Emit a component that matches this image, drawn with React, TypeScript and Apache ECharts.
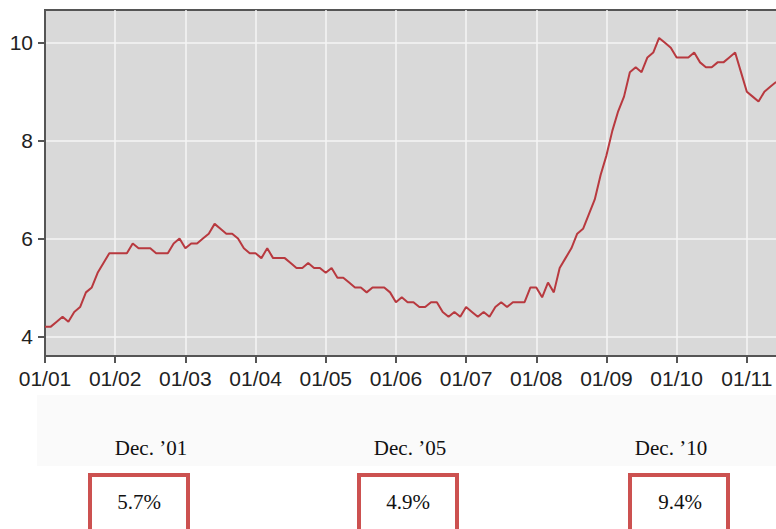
import React, { useEffect, useRef } from "react";
import * as echarts from "echarts";

// Monthly unemployment rate (%), Jan 2001 .. Jun 2011
const y2001 = [4.2, 4.2, 4.3, 4.4, 4.3, 4.5, 4.6, 4.9, 5.0, 5.3, 5.5, 5.7];
const y2002 = [5.7, 5.7, 5.7, 5.9, 5.8, 5.8, 5.8, 5.7, 5.7, 5.7, 5.9, 6.0];
const y2003 = [5.8, 5.9, 5.9, 6.0, 6.1, 6.3, 6.2, 6.1, 6.1, 6.0, 5.8, 5.7];
const y2004 = [5.7, 5.6, 5.8, 5.6, 5.6, 5.6, 5.5, 5.4, 5.4, 5.5, 5.4, 5.4];
const y2005 = [5.3, 5.4, 5.2, 5.2, 5.1, 5.0, 5.0, 4.9, 5.0, 5.0, 5.0, 4.9];
const y2006 = [4.7, 4.8, 4.7, 4.7, 4.6, 4.6, 4.7, 4.7, 4.5, 4.4, 4.5, 4.4];
const y2007 = [4.6, 4.5, 4.4, 4.5, 4.4, 4.6, 4.7, 4.6, 4.7, 4.7, 4.7, 5.0];
const y2008 = [5.0, 4.8, 5.1, 4.9, 5.4, 5.6, 5.8, 6.1, 6.2, 6.5, 6.8, 7.3];
const y2009 = [7.7, 8.2, 8.6, 8.9, 9.4, 9.5, 9.4, 9.7, 9.8, 10.1, 10.0, 9.9];
const y2010 = [9.7, 9.7, 9.7, 9.8, 9.6, 9.5, 9.5, 9.6, 9.6, 9.7, 9.8, 9.4];
const y2011 = [9.0, 8.9, 8.8, 9.0, 9.1, 9.2];

const xTickLabels = ["01/01", "01/02", "01/03", "01/04", "01/05", "01/06", "01/07", "01/08", "01/09", "01/10", "01/11"];
const yTickValues = [4, 6, 8, 10];

const calloutLabels = ["Dec. \u201901", "Dec. \u201905", "Dec. \u201910"];
const calloutValues = ["5.7%", "4.9%", "9.4%"];

export default function App() {
  const ref = useRef<HTMLDivElement>(null);

  useEffect(() => {
    if (!ref.current) return;
    const chart = echarts.init(ref.current, undefined, { renderer: "svg" });
    const rates = [
      ...y2001, ...y2002, ...y2003, ...y2004, ...y2005, ...y2006,
      ...y2007, ...y2008, ...y2009, ...y2010, ...y2011,
    ];
    const seriesData = rates.map((v, i) => [i, v]);

    const labelX = [151, 410, 671];
    const boxX = [90, 359, 630];
    const valueX = [139, 408, 680];

    const graphics: any[] = [
      {
        type: "rect",
        z: -1,
        shape: { x: 37, y: 395, width: 739, height: 71 },
        style: { fill: "#fafafa" },
      },
    ];
    calloutLabels.forEach((t, i) => {
      graphics.push({
        type: "text",
        x: labelX[i],
        y: 448,
        style: {
          text: t,
          fontFamily: "Liberation Serif",
          fontSize: 21,
          fill: "#111",
          align: "center",
          verticalAlign: "middle",
        },
      });
      graphics.push({
        type: "rect",
        shape: { x: boxX[i], y: 475, width: 98, height: 70 },
        style: { fill: "#fff", stroke: "#cc5150", lineWidth: 4 },
      });
      graphics.push({
        type: "text",
        x: valueX[i],
        y: 502,
        style: {
          text: calloutValues[i],
          fontFamily: "Liberation Serif",
          fontSize: 21,
          fill: "#111",
          align: "center",
          verticalAlign: "middle",
        },
      });
    });

    chart.setOption({
      animation: false,
      backgroundColor: "#ffffff",
      grid: {
        left: 45,
        top: 10,
        right: -3,
        bottom: 173,
        show: true,
        outerBoundsMode: "none",
        containLabel: false,
        backgroundColor: "#d9d9d9",
        borderColor: "#555",
        borderWidth: 2,
      },
      xAxis: {
        type: "value",
        min: 0,
        max: 125.5,
        interval: 12,
        axisLine: { show: true, onZero: false, lineStyle: { color: "#555", width: 2 } },
        axisTick: { show: true, length: 7, lineStyle: { color: "#555", width: 2 } },
        splitLine: { show: true, lineStyle: { color: "#f4f4f4", width: 1.5 } },
        axisLabel: {
          margin: 12,
          fontFamily: "Liberation Sans",
          fontSize: 21,
          color: "#222",
          formatter: (v: number) => (v % 12 === 0 ? xTickLabels[v / 12] ?? "" : ""),
        },
      },
      yAxis: {
        type: "value",
        min: 3.6,
        max: 10.67,
        axisLine: { show: true, onZero: false, lineStyle: { color: "#555", width: 2 } },
        axisTick: { show: true, length: 7, customValues: yTickValues, lineStyle: { color: "#555", width: 2 } },
        splitLine: { show: true, lineStyle: { color: "#f4f4f4", width: 1.5 } },
        axisLabel: {
          margin: 12,
          fontFamily: "Liberation Sans",
          fontSize: 21,
          color: "#222",
          customValues: yTickValues,
          formatter: (v: number) => String(v),
        },
      },
      series: [
        {
          type: "line",
          data: seriesData,
          showSymbol: false,
          symbol: "none",
          lineStyle: { color: "#b8393f", width: 2 },
        },
      ],
      graphic: graphics,
    });

    return () => chart.dispose();
  }, []);

  return (
    <div
      ref={ref}
      style={{ position: "absolute", left: 0, top: 0, width: 776, height: 529 }}
    />
  );
}
